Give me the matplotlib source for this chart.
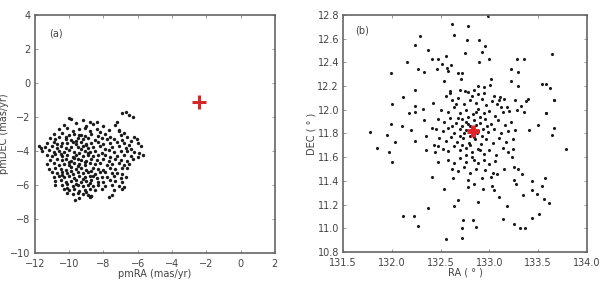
import matplotlib.pyplot as plt
import numpy as np

# panel (a): proper motions of members (mas/yr)
pm_ra = [
    -6.9, -6.7, -6.5, -6.3, -7.2, -7.1,
    -10.0, -9.9, -9.2, -8.8, -8.4, -10.3, -9.6, -9.0, -8.6, -8.0, -7.3,
    -10.6, -10.1, -9.8, -9.4, -9.1, -8.8, -8.4, -8.2, -7.7, -7.1, -6.8,
    -10.9, -10.4, -10.0, -9.7, -9.3, -9.1, -8.7, -8.3, -7.9, -7.6, -7.0, -6.6, -6.2, -6.05,
    -11.1, -10.8, -10.6, -10.2, -9.9, -9.5, -9.2, -8.9, -8.5, -8.1, -7.8, -7.4, -6.9, -6.4,
    -11.3, -10.9, -10.7, -10.4, -10.1, -9.8, -9.6, -9.3, -9.0, -8.7, -8.3, -8.0, -7.6, -7.2, -6.8, -6.5, -6.0,
    -11.75, -11.65, -11.4, -11.0, -10.7, -10.5, -10.2, -9.9, -9.5, -9.2, -8.9, -8.6, -8.2, -7.9, -7.5, -7.1, -6.7, -6.4, -5.8,
    -11.6, -11.2, -10.9, -10.6, -10.3, -10.0, -9.7, -9.4, -9.1, -8.8, -8.5, -8.1, -7.7, -7.4, -7.0, -6.6, -6.2, -5.9,
    -11.3, -11.0, -10.8, -10.4, -10.1, -9.8, -9.6, -9.2, -8.9, -8.6, -8.3, -7.9, -7.6, -7.2, -6.8, -6.4, -6.0, -5.7,
    -11.1, -10.7, -10.4, -10.2, -9.9, -9.5, -9.3, -9.0, -8.7, -8.4, -8.0, -7.7, -7.3, -7.0, -6.6, -6.3,
    -11.3, -10.9, -10.6, -10.3, -10.0, -9.7, -9.4, -9.1, -8.8, -8.5, -8.2, -7.8, -7.5, -7.1, -6.8, -6.5,
    -11.2, -10.8, -10.5, -10.2, -9.9, -9.6, -9.3, -9.0, -8.6, -8.3, -8.0, -7.6, -7.3, -6.9, -6.6,
    -11.0, -10.7, -10.4, -10.1, -9.8, -9.5, -9.2, -8.9, -8.5, -8.2, -7.9, -7.5, -7.2, -6.9,
    -10.9, -10.6, -10.3, -10.0, -9.7, -9.4, -9.1, -8.8, -8.4, -8.1, -7.8, -7.4, -7.0, -6.7,
    -10.8, -10.5, -10.2, -9.9, -9.6, -9.3, -9.0, -8.7, -8.3, -8.0, -7.6, -7.3, -6.9,
    -10.85, -10.4, -10.1, -9.8, -9.5, -9.2, -8.9, -8.6, -8.3, -7.9, -7.5, -7.1, -6.8,
    -10.3, -10.0, -9.7, -9.4, -9.1, -8.8, -8.5, -8.1, -7.4, -6.9,
    -10.1, -9.8, -9.5, -9.2, -8.9, -8.75,
    -9.65, -9.4, -8.8, -8.7, -7.7, -7.5,
    -10.2, -9.6, -9.4, -9.0, -10.5, -9.7, -9.3, -8.9, -10.0, -9.5,
    -9.1, -8.7, -10.4, -9.9, -9.2, -8.8, -10.1, -9.6, -9.0, -8.6,
]
pm_dec = [
    -1.78, -1.70, -1.88, -2.00, -2.27, -2.75,
    -2.05, -2.10, -2.20, -2.28, -2.32, -2.45, -2.38, -2.52, -2.42, -2.55, -2.48,
    -2.72, -2.65, -2.80, -2.70, -2.62, -2.85, -2.68, -2.90, -2.75, -2.82, -2.95,
    -3.02, -2.95, -3.08, -2.98, -3.05, -3.12, -2.97, -3.10, -3.00, -3.15, -3.05, -3.18, -3.15, -3.28,
    -3.25, -3.30, -3.20, -3.28, -3.35, -3.22, -3.30, -3.26, -3.38, -3.24, -3.32, -3.28, -3.36, -3.40,
    -3.52, -3.46, -3.58, -3.50, -3.55, -3.45, -3.60, -3.48, -3.56, -3.50, -3.44, -3.58, -3.52, -3.47, -3.55, -3.62, -3.50,
    -3.70, -3.82, -3.76, -3.72, -3.80, -3.70, -3.84, -3.74, -3.79, -3.68, -3.82, -3.75, -3.71, -3.86, -3.77, -3.73, -3.80, -3.88, -3.72,
    -4.02, -3.96, -4.05, -3.98, -4.08, -3.95, -4.03, -4.10, -3.97, -4.04, -4.00, -4.09, -3.96, -4.06, -4.01, -3.98, -4.07, -4.12,
    -4.25, -4.30, -4.20, -4.28, -4.22, -4.33, -4.24, -4.29, -4.21, -4.31, -4.26, -4.23, -4.34, -4.27, -4.22, -4.30, -4.35, -4.22,
    -4.50, -4.46, -4.55, -4.48, -4.58, -4.45, -4.52, -4.57, -4.47, -4.54, -4.49, -4.56, -4.46, -4.53, -4.59, -4.48,
    -4.78, -4.72, -4.80, -4.74, -4.82, -4.70, -4.77, -4.83, -4.73, -4.79, -4.71, -4.84, -4.76, -4.72, -4.81, -4.75,
    -5.08, -4.98, -5.03, -5.10, -4.96, -5.05, -5.00, -5.09, -4.97, -5.04, -5.11, -4.99, -5.06, -5.02, -4.97,
    -5.25, -5.30, -5.22, -5.28, -5.34, -5.24, -5.29, -5.21, -5.32, -5.26, -5.23, -5.31, -5.27, -5.35,
    -5.52, -5.46, -5.55, -5.49, -5.58, -5.47, -5.53, -5.45, -5.57, -5.50, -5.54, -5.48, -5.56, -5.51,
    -5.78, -5.72, -5.80, -5.74, -5.70, -5.82, -5.76, -5.71, -5.79, -5.84, -5.73, -5.77, -5.81,
    -5.98, -6.02, -5.96, -6.05, -6.00, -6.08, -5.97, -6.04, -6.01, -6.06, -5.99, -6.03, -6.10,
    -6.25, -6.30, -6.22, -6.32, -6.27, -6.24, -6.31, -6.26, -6.29, -6.23,
    -6.48, -6.55, -6.45, -6.52, -6.58, -6.62,
    -6.87, -6.77, -6.70, -6.66, -6.68, -6.58,
    -3.15, -3.40, -3.05, -3.65, -4.15, -4.40, -3.90, -4.12, -4.65, -4.90,
    -4.62, -5.15, -5.40, -5.18, -5.65, -5.90, -6.15, -5.95, -6.40, -5.45,
]
pm_center = (-2.4, -1.1)

# panel (b): positions of members (deg)
ra = [
    # outer, upper half
    132.99, 132.62, 132.78, 132.29, 132.64, 132.24, 132.77, 132.89, 132.96, 132.37,
    132.92, 132.41, 132.47, 132.56, 132.75, 133.00, 133.28, 133.36, 133.64, 132.15,
    132.89, 132.51, 132.61, 133.22, 133.29, 132.27, 132.33, 132.46, 132.57, 132.58,
    132.68, 132.72, 131.99, 132.53, 132.71, 133.02, 133.22, 132.24, 132.88, 132.95,
    133.01, 133.29, 133.54, 133.58, 133.62, 132.70, 132.75, 132.84, 132.60, 132.82,
    133.11, 133.10, 133.26, 132.11, 133.15, 133.38, 133.40, 133.66, 132.00, 132.42,
    132.24, 132.32, 132.18, 133.18, 133.28, 133.36, 133.58, 133.32,
    # outer, lower half and sides
    131.78, 131.85, 131.95, 132.03, 131.97, 132.00, 131.99, 132.10, 132.20, 132.24,
    132.35, 132.24, 132.33, 132.41, 132.35, 132.43, 132.44, 132.47, 132.47, 132.41,
    132.53, 132.37, 132.11, 132.23, 132.27, 132.55, 132.72, 132.72, 132.73, 132.83,
    132.86, 132.68, 132.64, 132.88, 132.63, 132.78, 132.92, 133.08, 133.15, 133.02,
    132.93, 133.05, 133.03, 132.84, 132.78, 133.10, 133.18, 133.14, 133.25, 133.31,
    133.37, 133.44, 133.51, 133.56, 133.61, 133.49, 133.44, 133.54, 133.57, 133.44,
    133.35, 133.25, 133.27, 133.29, 133.34, 133.23, 133.24, 133.19, 133.25, 133.41,
    133.50, 133.64, 133.66, 133.79, 133.58, 133.66,
    # core
    132.55, 132.62, 132.68, 132.74, 132.80, 132.86, 132.92, 132.97, 133.03, 133.08, 133.12,
    132.50, 132.58, 132.64, 132.70, 132.76, 132.83, 132.88, 132.94, 133.00, 133.06, 133.14, 133.20,
    132.47, 132.53, 132.60, 132.66, 132.72, 132.78, 132.84, 132.90, 132.96, 133.02, 133.09, 133.16, 133.22,
    132.45, 132.52, 132.58, 132.64, 132.70, 132.76, 132.80, 132.87, 132.93, 132.99, 133.05, 133.12, 133.19, 133.26,
    132.48, 132.55, 132.61, 132.67, 132.73, 132.79, 132.85, 132.91, 132.97, 133.04, 133.10, 133.17, 133.24,
    132.52, 132.58, 132.64, 132.70, 132.76, 132.82, 132.88, 132.94, 133.00, 133.07, 133.14,
    132.58, 132.64, 132.70, 132.76, 132.82, 132.88, 132.94, 133.00, 133.06,
    132.62, 132.68, 132.74, 132.80, 132.86, 132.96, 133.04,
    132.72, 132.76, 132.82, 132.86, 132.80, 132.74, 132.88, 132.78, 132.84, 132.90,
    132.70, 132.92, 132.68, 132.86, 132.80, 132.76, 132.84, 132.72, 132.90, 132.62,
    132.98, 132.66, 132.88, 132.78, 132.95, 133.05, 132.60,
]
dec = [
    12.79, 12.72, 12.71, 12.62, 12.63, 12.55, 12.59, 12.59, 12.54, 12.50,
    12.49, 12.43, 12.43, 12.45, 12.48, 12.43, 12.43, 12.43, 12.47, 12.40,
    12.40, 12.39, 12.38, 12.34, 12.32, 12.34, 12.32, 12.34, 12.35, 12.33,
    12.31, 12.31, 12.31, 12.24, 12.26, 12.26, 12.24, 12.17, 12.20, 12.19,
    12.21, 12.20, 12.22, 12.22, 12.18, 12.17, 12.16, 12.17, 12.14, 12.12,
    12.11, 12.08, 12.08, 12.11, 12.09, 12.07, 12.09, 12.08, 12.05, 12.06,
    12.03, 12.01, 11.97, 12.02, 12.00, 11.98, 11.97, 12.03,
    11.81, 11.68, 11.79, 11.73, 11.64, 11.56, 11.88, 11.86, 11.83, 11.74,
    11.78, 11.98, 11.91, 11.85, 11.66, 11.70, 11.64, 11.69, 11.56, 11.43,
    11.33, 11.17, 11.10, 11.10, 11.02, 10.91, 10.92, 11.00, 11.07, 11.07,
    11.01, 11.24, 11.19, 11.22, 11.42, 11.41, 11.42, 11.46, 11.50, 11.43,
    11.33, 11.32, 11.36, 11.37, 11.35, 11.26, 11.19, 11.08, 11.04, 11.00,
    11.00, 11.09, 11.12, 11.25, 11.21, 11.29, 11.32, 11.36, 11.42, 11.40,
    11.28, 11.41, 11.37, 11.50, 11.46, 11.60, 11.67, 11.64, 11.52, 11.83,
    11.87, 11.79, 11.85, 11.67, 11.97, 12.08,
    12.12, 12.08, 12.10, 12.05, 12.08, 12.06, 12.09, 12.04, 12.07, 12.05, 12.02,
    12.00, 11.98, 12.02, 11.97, 12.00, 11.96, 12.01, 11.97, 11.99, 11.95, 11.98, 11.99,
    11.92, 11.90, 11.93, 11.89, 11.92, 11.88, 11.91, 11.89, 11.92, 11.88, 11.91, 11.87, 11.90,
    11.84, 11.82, 11.85, 11.80, 11.84, 11.83, 11.86, 11.80, 11.84, 11.81, 11.84, 11.80, 11.82, 11.83,
    11.76, 11.74, 11.77, 11.73, 11.76, 11.72, 11.75, 11.71, 11.75, 11.72, 11.76, 11.73, 11.75,
    11.67, 11.65, 11.69, 11.66, 11.68, 11.64, 11.67, 11.63, 11.66, 11.62, 11.68,
    11.58, 11.55, 11.59, 11.56, 11.60, 11.55, 11.58, 11.54, 11.57,
    11.50, 11.48, 11.52, 11.47, 11.50, 11.49, 11.47,
    11.86, 11.90, 11.84, 11.87, 11.78, 11.80, 11.82, 11.94, 11.77, 11.94,
    11.78, 11.78, 11.93, 11.98, 11.70, 11.62, 11.58, 11.70, 11.66, 11.86,
    11.86, 12.05, 12.13, 12.15, 12.14, 12.12, 12.16,
]
pos_center = (132.83, 11.82)

txt = "#444444"
plt.rcParams["font.family"] = "DejaVu Sans"
plt.rcParams["font.size"] = 7

fig = plt.figure(figsize=(6.0, 2.87), dpi=100)
ax1 = fig.add_axes([0.058, 0.118, 0.400, 0.830])
ax2 = fig.add_axes([0.572, 0.122, 0.406, 0.826])

ax1.scatter(pm_ra, pm_dec, s=6, c="#1a1a1a", linewidths=0)
ax1.plot(pm_center[0], pm_center[1], "+", color="#d62728", ms=10, mew=2.2)
ax1.set_xlim(-12, 2)
ax1.set_ylim(-10, 4)
ax1.set_xticks(np.arange(-12, 3, 2))
ax1.set_yticks(np.arange(-10, 5, 2))
ax1.set_xlabel("pmRA (mas/yr)", color=txt, labelpad=0)
ax1.set_ylabel("pmDEC (mas/yr)", color=txt, labelpad=1)
ax1.text(0.06, 0.91, "(a)", transform=ax1.transAxes, color=txt)

ax2.scatter(ra, dec, s=5, c="#1a1a1a", linewidths=0)
ax2.plot(pos_center[0], pos_center[1], "+", color="#e0242b", ms=8, mew=3.5)
ax2.set_xlim(131.5, 134.0)
ax2.set_ylim(10.8, 12.8)
ax2.set_xticks(np.arange(131.5, 134.01, 0.5))
ax2.set_yticks(np.arange(10.8, 12.81, 0.2))
ax2.xaxis.set_major_formatter(plt.FormatStrFormatter("%.1f"))
ax2.yaxis.set_major_formatter(plt.FormatStrFormatter("%.1f"))
ax2.set_xlabel("RA ( ° )", color=txt, labelpad=0)
ax2.set_ylabel("DEC ( ° )", color=txt, labelpad=1)
ax2.text(0.05, 0.92, "(b)", transform=ax2.transAxes, color=txt)

for ax in (ax1, ax2):
    for sp in ax.spines.values():
        sp.set_color("#666666")
        sp.set_linewidth(1.2)
    ax.tick_params(direction="in", top=True, right=True, length=2.5,
                   width=0.6, color="#888888", labelcolor=txt)
    ax.tick_params(axis="x", pad=4)
    ax.tick_params(axis="y", pad=3)

fig.savefig("out.png", dpi=100)
